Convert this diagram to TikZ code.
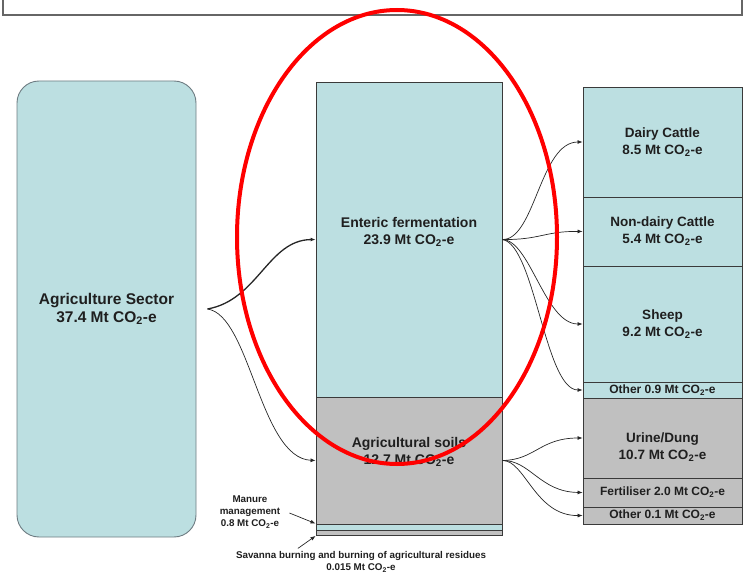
\documentclass[tikz,border=0pt]{standalone}
\usepackage{fontspec}
\setmainfont{Liberation Sans}
\usetikzlibrary{arrows.meta,positioning,calc,shapes.geometric}
\definecolor{boxBlue}{HTML}{BCDFE1}
\definecolor{boxGrey}{HTML}{C0C0C0}
\definecolor{edgeGrey}{HTML}{3A3A3A}
\definecolor{sectorEdge}{HTML}{6E7C82}
\definecolor{arcInk}{HTML}{262626}
\definecolor{markRed}{HTML}{FF0000}
\newcommand{\cotwo}{CO\textsubscript{2}-e}
\tikzset{
  colbox/.style={draw=edgeGrey, line width=0.9pt, inner sep=0pt, align=center,
    text=black!88, font=\bfseries\fontsize{13.5}{17}\selectfont},
  blueBox/.style={colbox, fill=boxBlue},
  greyBox/.style={colbox, fill=boxGrey},
  boxtext/.style={align=center, inner sep=0pt, text=black!88,
    font=\bfseries\fontsize{14}{16.5}\selectfont},
  rowtext/.style={font=\bfseries\fontsize{12}{14}\selectfont},
  notetext/.style={align=center, inner sep=1pt, text=black!88,
    font=\bfseries\fontsize{9.8}{12.2}\selectfont},
  arc/.style={-{Latex[length=5pt,width=4pt]}, draw=arcInk, line width=0.7pt},
  mainArc/.style={arc, line width=1.3pt},
}

\begin{document}
\begin{tikzpicture}[x=1pt, y=-1pt]
    \useasboundingbox (0,0) rectangle (745,575);
    \node[draw=black!60, line width=1.2pt, fill=white, minimum width=739,
      minimum height=40, inner sep=0pt] (banner) at (372.5,-5) {};
    % sector and its two main parts
    \node[blueBox, draw=sectorEdge, rounded corners=22pt, minimum width=179,
      minimum height=456, font=\bfseries\fontsize{15.5}{18}\selectfont] (sector) at (106.5,309)
      {Agriculture Sector\\37.4 Mt \cotwo};
    \node[blueBox, minimum width=186, minimum height=315] (enteric) at (409,239.5) {};
    \node[boxtext] (entericlbl) at (409,232) {Enteric fermentation\\23.9 Mt \cotwo};
    \node[greyBox, minimum width=186, minimum height=127] (soils) at (409,460.5) {};
    \node[boxtext] (soilslbl) at (409,452) {Agricultural soils\\12.7 Mt \cotwo};
    \node[blueBox, minimum width=186, minimum height=6.5] (manure) at (409,527.25) {};
    \node[greyBox, minimum width=186, minimum height=5] (savanna) at (409,533) {};
    % breakdown column
    \node[blueBox, minimum width=159, minimum height=110] (dairy) at (662.5,142) {Dairy Cattle\\8.5 Mt \cotwo};
    \node[blueBox, minimum width=159, minimum height=69] (nondairy) at (662.5,231.5) {Non-dairy Cattle\\5.4 Mt \cotwo};
    \node[blueBox, minimum width=159, minimum height=116] (sheep) at (662.5,324) {Sheep\\9.2 Mt \cotwo};
    \node[blueBox, rowtext, minimum width=159, minimum height=16] (other09) at (662.5,390) {Other 0.9 Mt \cotwo};
    \node[greyBox, minimum width=159, minimum height=80] (urine) at (662.5,438) {};
    \node[boxtext, font=\bfseries\fontsize{13.5}{17}\selectfont] (urinelbl) at (662.5,447) {Urine/Dung\\10.7 Mt \cotwo};
    \node[greyBox, rowtext, minimum width=159, minimum height=29] (fert) at (662.5,492.5) {Fertiliser 2.0 Mt \cotwo};
    \node[greyBox, rowtext, minimum width=159, minimum height=17] (other01) at (662.5,515.5) {Other 0.1 Mt \cotwo};
    % small sources
    \node[notetext] (manurelbl) at (250,512) {Manure\\management\\0.8 Mt \cotwo};
    \node[notetext] (savannalbl) at (361,562) {Savanna burning and burning of agricultural residues\\0.015 Mt \cotwo};
    \draw[mainArc] ([xshift=11pt]sector.east) .. controls (258,300) and (268,240) .. (enteric.west);
    \draw[arc] ([xshift=11pt]sector.east) .. controls (250,315) and (260,458) .. (soils.west);
    \draw[arc] (enteric.east) .. controls (535,240) and (540,142) .. (dairy.west);
    \draw[arc] (enteric.east) .. controls (540,240) and (545,231) .. (nondairy.west);
    \draw[arc] (enteric.east) .. controls (530,240) and (545,324) .. (sheep.west);
    \draw[arc] (enteric.east) .. controls (535,245) and (545,390) .. (other09.west);
    \draw[arc] (soils.east) .. controls (535,460) and (540,438) .. (urine.west);
    \draw[arc] (soils.east) .. controls (530,460) and (540,492) .. (fert.west);
    \draw[arc] (soils.east) .. controls (525,460) and (535,516) .. (other01.west);
    \draw[arc] ([xshift=8pt,yshift=-1pt]manurelbl.east) -- (manure.north west);
    \draw[arc] ($(savannalbl.north west)!0.25!(savannalbl.north east)+(0,-2)$) -- (savanna.south west);
    % highlight
    \node[ellipse, draw=markRed, line width=4pt, minimum width=320, minimum height=454,
      inner sep=0pt] (highlight) at (397,237) {};
\end{tikzpicture}
\end{document}
